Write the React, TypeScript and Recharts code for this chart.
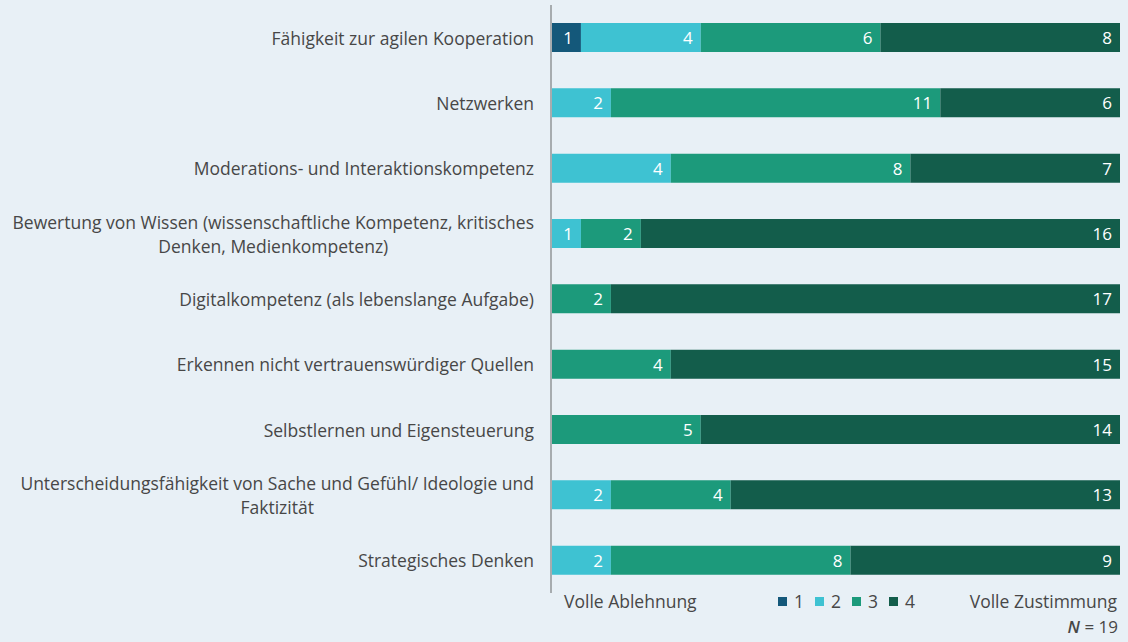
import { BarChart, Bar, XAxis, YAxis, LabelList } from 'recharts';

const categories = [
  'Fähigkeit zur agilen Kooperation',
  'Netzwerken',
  'Moderations- und Interaktionskompetenz',
  'Bewertung von Wissen (wissenschaftliche Kompetenz, kritisches\nDenken, Medienkompetenz)',
  'Digitalkompetenz (als lebenslange Aufgabe)',
  'Erkennen nicht vertrauenswürdiger Quellen',
  'Selbstlernen und Eigensteuerung',
  'Unterscheidungsfähigkeit von Sache und Gefühl/ Ideologie und\nFaktizität',
  'Strategisches Denken',
];

const rating1 = [1, 0, 0, 0, 0, 0, 0, 0, 0];
const rating2 = [4, 2, 4, 1, 0, 0, 0, 2, 2];
const rating3 = [6, 11, 8, 2, 2, 4, 5, 4, 8];
const rating4 = [8, 6, 7, 16, 17, 15, 14, 13, 9];

const seriesKeys = ['1', '2', '3', '4'];
const seriesColors = ['#14587a', '#3ec2d2', '#1c9a7b', '#135d4b'];
const total = 19;

const data = categories.map((name, i) => ({
  name,
  '1': rating1[i],
  '2': rating2[i],
  '3': rating3[i],
  '4': rating4[i],
}));

const FONT = '"Open Sans", "Noto Sans", sans-serif';
const BG = '#e8f0f6';
const TEXT = '#474747';

function CategoryTick({ y, payload }: { y?: number; payload?: { value: string } }) {
  const lines = String(payload?.value ?? '').split('\n');
  return (
    <foreignObject x={0} y={(y ?? 0) - 30} width={534} height={60}>
      <div
        style={{
          width: 534, height: 60, display: 'flex', alignItems: 'center',
          justifyContent: 'flex-end', fontFamily: FONT, fontSize: 17.5,
          color: TEXT, lineHeight: '24px', whiteSpace: 'nowrap',
        }}
      >
        <div style={{ textAlign: 'center' }}>
          {lines.map((l, k) => <div key={k}>{l}</div>)}
        </div>
      </div>
    </foreignObject>
  );
}

function ValueLabel(props: any) {
  const { x, y, width, height, value } = props;
  if (!value) return null;
  return (
    <text
      x={x + width - 8}
      y={y + height / 2}
      textAnchor="end"
      dominantBaseline="central"
      fill="#ffffff"
      fontSize={17}
      fontFamily={FONT}
    >
      {value}
    </text>
  );
}

export default function App() {
  return (
    <div style={{ position: 'absolute', left: 0, top: 0, width: 1128, height: 642, background: BG, fontFamily: FONT }}>
      <BarChart
        width={1128}
        height={596}
        data={data}
        layout="vertical"
        margin={{ top: 5, right: 8, bottom: 3, left: 0 }}
        barSize={29}
      >
        <XAxis type="number" domain={[0, total]} hide />
        <YAxis
          type="category"
          dataKey="name"
          width={551}
          axisLine={{ stroke: '#a7acaf', strokeWidth: 2 }}
          tickLine={false}
          tick={<CategoryTick />}
          interval={0}
        />
        {seriesKeys.map((k, i) => (
          <Bar key={k} dataKey={k} stackId="a" fill={seriesColors[i]} isAnimationActive={false}>
            <LabelList dataKey={k} content={<ValueLabel />} />
          </Bar>
        ))}
      </BarChart>
      <div style={{ position: 'absolute', left: 564, top: 589, fontSize: 17.5, color: TEXT }}>Volle Ablehnung</div>
      <div style={{ position: 'absolute', left: 778, top: 589, fontSize: 17.5, color: TEXT, display: 'flex', gap: 11 }}>
        {seriesKeys.map((k, i) => (
          <span key={k} style={{ display: 'flex', alignItems: 'center', gap: 7 }}>
            <span style={{ display: 'inline-block', width: 9, height: 9, background: seriesColors[i] }} />
            {k}
          </span>
        ))}
      </div>
      <div style={{ position: 'absolute', right: 11, top: 589, fontSize: 17.5, color: TEXT }}>Volle Zustimmung</div>
      <div style={{ position: 'absolute', right: 10, top: 616, fontSize: 17, lineHeight: '22px', color: TEXT }}>
        <i style={{ fontWeight: 600 }}>N</i> = 19
      </div>
    </div>
  );
}
